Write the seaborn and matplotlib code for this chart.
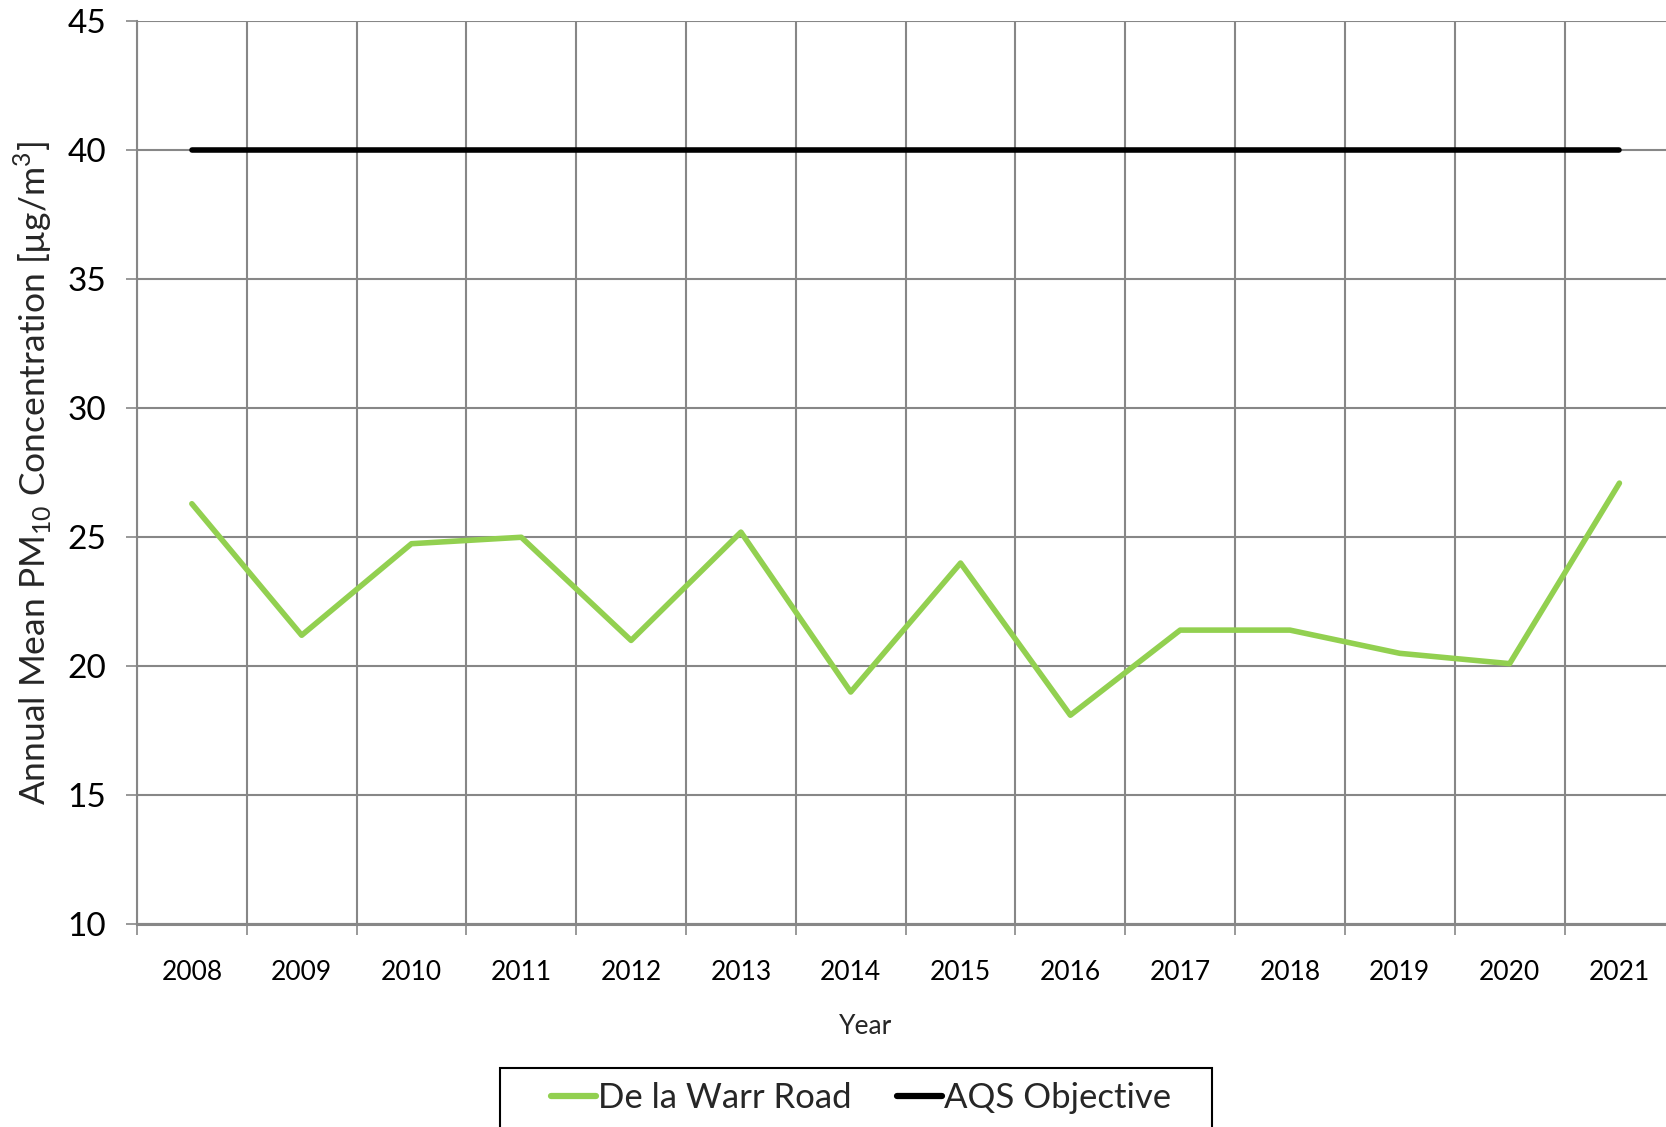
import matplotlib
matplotlib.use("Agg")
import matplotlib.pyplot as plt
import numpy as np
import pandas as pd
import seaborn as sns
from matplotlib.patches import Rectangle
from matplotlib.ticker import MultipleLocator, FixedLocator

# 数据
years = ["2008", "2009", "2010", "2011", "2012", "2013", "2014",
         "2015", "2016", "2017", "2018", "2019", "2020", "2021"]
de_la_warr = [26.3, 21.2, 24.75, 25.0, 21.0, 25.2, 19.0,
              24.0, 18.1, 21.4, 21.4, 20.5, 20.1, 27.1]
aqs_objective = [40] * len(years)

sns.set_theme(style="white")
plt.rcParams["font.family"] = ["Lato", "DejaVu Sans"]
plt.rcParams["mathtext.fontset"] = "custom"
plt.rcParams["mathtext.rm"] = "Lato"

df = pd.DataFrame({
    "pos": np.arange(len(years)).tolist() * 2,
    "value": de_la_warr + aqs_objective,
    "series": ["De la Warr Road"] * len(years) + ["AQS Objective"] * len(years),
})

fig = plt.figure(figsize=(16.66, 11.27), dpi=100)
ax = fig.add_axes([0.0822, 0.180, 0.9228, 0.801])

sns.lineplot(data=df, x="pos", y="value", hue="series",
             palette={"De la Warr Road": "#92D050", "AQS Objective": "#000000"},
             linewidth=4.0, ax=ax, legend=True)

grid_c = "#878787"
ax.set_xlim(-0.5, len(years) - 0.5)
ax.set_ylim(10, 45)
ax.yaxis.set_major_locator(MultipleLocator(5))
ax.set_xticks(np.arange(len(years)))
ax.set_xticklabels(years)
ax.xaxis.set_minor_locator(FixedLocator(np.arange(len(years) + 1) - 0.5))

ax.grid(True, which="major", axis="y", color=grid_c, linewidth=1.5)
ax.grid(True, which="minor", axis="x", color=grid_c, linewidth=1.5)
ax.set_axisbelow(True)

for s in ["top", "right"]:
    ax.spines[s].set_visible(False)
ax.spines["left"].set_color(grid_c)
ax.spines["left"].set_linewidth(1.5)
ax.spines["bottom"].set_color(grid_c)
ax.spines["bottom"].set_linewidth(2.2)

ax.tick_params(axis="x", which="major", length=0, labelsize=19, pad=26, colors="black")
ax.tick_params(axis="x", which="minor", length=8, width=1.2, color=grid_c, bottom=True)
ax.tick_params(axis="y", which="major", length=8, width=1.2, color=grid_c,
               labelsize=24, pad=14, left=True, labelcolor="black")

ax.set_xlabel("Year", fontsize=19, labelpad=20)
ax.xaxis.set_label_coords(0.474, -0.1)
ax.set_ylabel(r"Annual Mean PM$_{\mathregular{10}}$ Concentration [µg/m$^{\mathregular{3}}$]",
              fontsize=25.5, labelpad=10)

# 图例：文字居中，外框单独画（底部超出画布）
handles, labels = ax.get_legend_handles_labels()
leg = ax.legend(handles, labels, loc="center", bbox_to_anchor=(0.5168, 0.0257),
                bbox_transform=fig.transFigure, ncol=2, frameon=False, fontsize=25,
                handlelength=1.3, handletextpad=0.05, columnspacing=1.3, borderpad=0)
for line in leg.get_lines():
    line.set_linewidth(4.5)

fig.patches.append(Rectangle((0.300, -0.02), 0.4274, 0.0724, transform=fig.transFigure,
                             fill=False, edgecolor="black", linewidth=1.5))

fig.savefig("out.png", dpi=100)
